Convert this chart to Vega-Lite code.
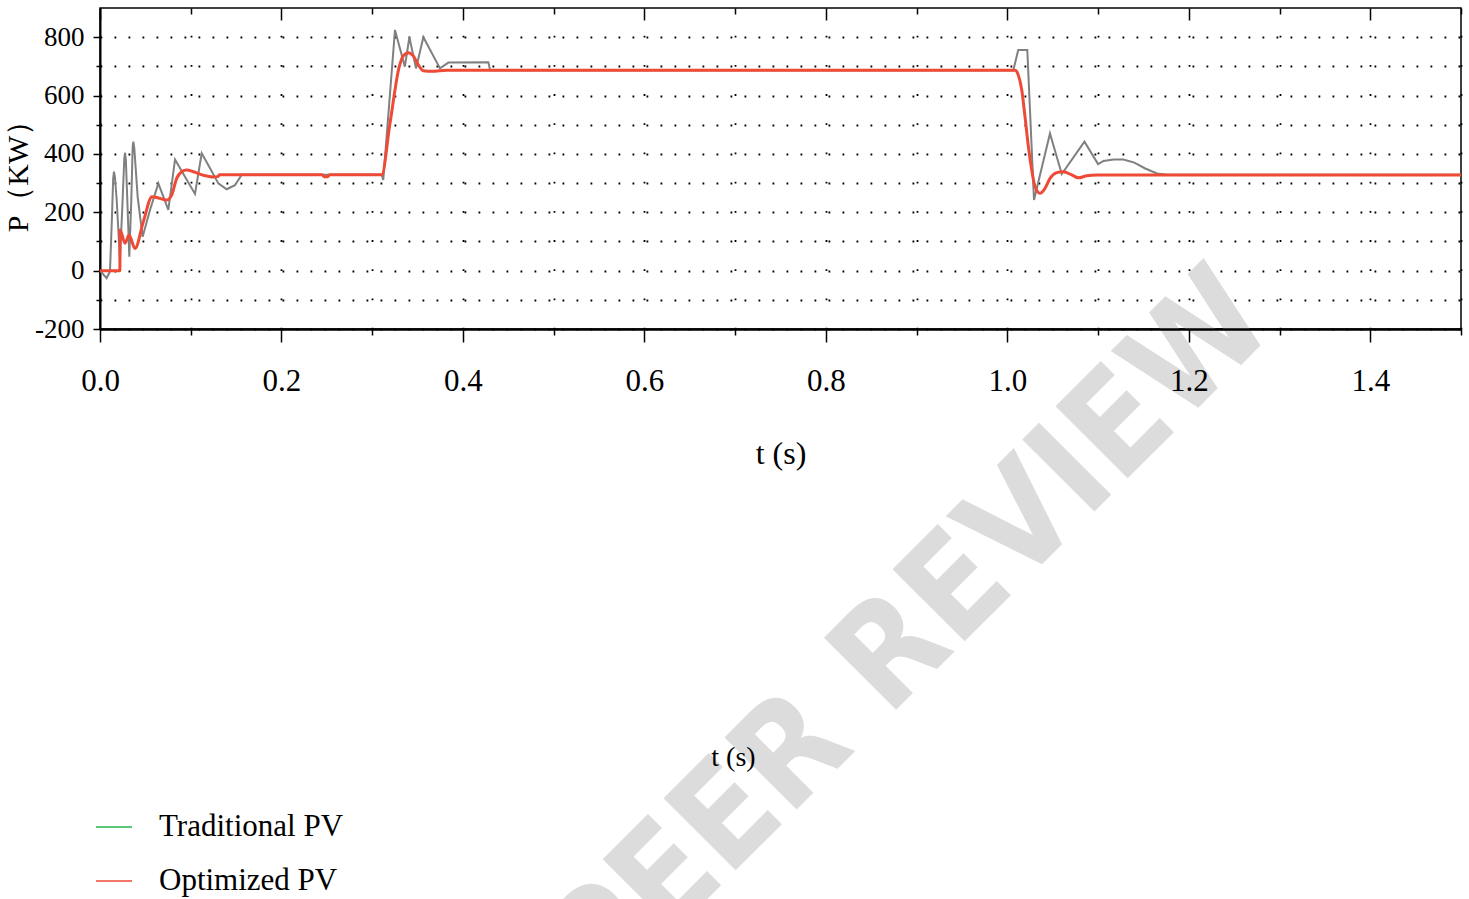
{
  "$schema": "https://vega.github.io/schema/vega-lite/v6.json",
  "width": 1361,
  "height": 321,
  "autosize": {"type": "none"},
  "padding": {"left": 100, "top": 8, "right": 8, "bottom": 570},
  "background": "white",
  "config": {
    "view": {"stroke": "black", "strokeWidth": 1.5},
    "font": "Liberation Serif"
  },
  "data": {
    "values": [
      {"series": "Traditional PV", "t": 0, "P": 0},
      {"series": "Traditional PV", "t": 0.0073, "P": -26},
      {"series": "Traditional PV", "t": 0.011, "P": -3},
      {"series": "Traditional PV", "t": 0.0132, "P": 185},
      {"series": "Traditional PV", "t": 0.0145, "P": 315},
      {"series": "Traditional PV", "t": 0.0154, "P": 339},
      {"series": "Traditional PV", "t": 0.0165, "P": 320},
      {"series": "Traditional PV", "t": 0.0184, "P": 242},
      {"series": "Traditional PV", "t": 0.022, "P": 36},
      {"series": "Traditional PV", "t": 0.0246, "P": 219},
      {"series": "Traditional PV", "t": 0.0268, "P": 385},
      {"series": "Traditional PV", "t": 0.0276, "P": 404},
      {"series": "Traditional PV", "t": 0.0285, "P": 380},
      {"series": "Traditional PV", "t": 0.0301, "P": 242},
      {"series": "Traditional PV", "t": 0.0323, "P": 48},
      {"series": "Traditional PV", "t": 0.0345, "P": 242},
      {"series": "Traditional PV", "t": 0.036, "P": 425},
      {"series": "Traditional PV", "t": 0.0367, "P": 442},
      {"series": "Traditional PV", "t": 0.0378, "P": 420},
      {"series": "Traditional PV", "t": 0.0415, "P": 253},
      {"series": "Traditional PV", "t": 0.047, "P": 116},
      {"series": "Traditional PV", "t": 0.0551, "P": 208},
      {"series": "Traditional PV", "t": 0.0643, "P": 299},
      {"series": "Traditional PV", "t": 0.0753, "P": 208},
      {"series": "Traditional PV", "t": 0.0827, "P": 381},
      {"series": "Traditional PV", "t": 0.0937, "P": 322},
      {"series": "Traditional PV", "t": 0.1047, "P": 263},
      {"series": "Traditional PV", "t": 0.1121, "P": 402},
      {"series": "Traditional PV", "t": 0.1213, "P": 351},
      {"series": "Traditional PV", "t": 0.1304, "P": 299},
      {"series": "Traditional PV", "t": 0.1396, "P": 279},
      {"series": "Traditional PV", "t": 0.1488, "P": 293},
      {"series": "Traditional PV", "t": 0.1562, "P": 329},
      {"series": "Traditional PV", "t": 0.3105, "P": 329},
      {"series": "Traditional PV", "t": 0.3122, "P": 311},
      {"series": "Traditional PV", "t": 0.3251, "P": 825},
      {"series": "Traditional PV", "t": 0.336, "P": 699},
      {"series": "Traditional PV", "t": 0.341, "P": 800},
      {"series": "Traditional PV", "t": 0.3483, "P": 693},
      {"series": "Traditional PV", "t": 0.3564, "P": 800},
      {"series": "Traditional PV", "t": 0.3747, "P": 693},
      {"series": "Traditional PV", "t": 0.384, "P": 713},
      {"series": "Traditional PV", "t": 0.428, "P": 714},
      {"series": "Traditional PV", "t": 0.43, "P": 687},
      {"series": "Traditional PV", "t": 1.0066, "P": 687},
      {"series": "Traditional PV", "t": 1.012, "P": 756},
      {"series": "Traditional PV", "t": 1.022, "P": 756},
      {"series": "Traditional PV", "t": 1.0294, "P": 242},
      {"series": "Traditional PV", "t": 1.047, "P": 470},
      {"series": "Traditional PV", "t": 1.06, "P": 331},
      {"series": "Traditional PV", "t": 1.085, "P": 442},
      {"series": "Traditional PV", "t": 1.1, "P": 365},
      {"series": "Traditional PV", "t": 1.106, "P": 376},
      {"series": "Traditional PV", "t": 1.117, "P": 381},
      {"series": "Traditional PV", "t": 1.128, "P": 381},
      {"series": "Traditional PV", "t": 1.14, "P": 370},
      {"series": "Traditional PV", "t": 1.152, "P": 350},
      {"series": "Traditional PV", "t": 1.165, "P": 333},
      {"series": "Traditional PV", "t": 1.176, "P": 329},
      {"series": "Traditional PV", "t": 1.5, "P": 329},
      {"series": "Optimized PV", "t": 0, "P": 0},
      {"series": "Optimized PV", "t": 0.0219, "P": 0},
      {"series": "Optimized PV", "t": 0.0221, "P": 139},
      {"series": "Optimized PV", "t": 0.0276, "P": 94},
      {"series": "Optimized PV", "t": 0.032, "P": 122},
      {"series": "Optimized PV", "t": 0.0386, "P": 76},
      {"series": "Optimized PV", "t": 0.0478, "P": 168},
      {"series": "Optimized PV", "t": 0.0573, "P": 253},
      {"series": "Optimized PV", "t": 0.0643, "P": 249},
      {"series": "Optimized PV", "t": 0.0735, "P": 242},
      {"series": "Optimized PV", "t": 0.079, "P": 259},
      {"series": "Optimized PV", "t": 0.0845, "P": 316},
      {"series": "Optimized PV", "t": 0.09, "P": 339},
      {"series": "Optimized PV", "t": 0.0955, "P": 345},
      {"series": "Optimized PV", "t": 0.103, "P": 339},
      {"series": "Optimized PV", "t": 0.114, "P": 327},
      {"series": "Optimized PV", "t": 0.125, "P": 321},
      {"series": "Optimized PV", "t": 0.1304, "P": 323},
      {"series": "Optimized PV", "t": 0.1315, "P": 329},
      {"series": "Optimized PV", "t": 0.245, "P": 329},
      {"series": "Optimized PV", "t": 0.247, "P": 322},
      {"series": "Optimized PV", "t": 0.251, "P": 322},
      {"series": "Optimized PV", "t": 0.253, "P": 329},
      {"series": "Optimized PV", "t": 0.3105, "P": 329},
      {"series": "Optimized PV", "t": 0.3196, "P": 505},
      {"series": "Optimized PV", "t": 0.3299, "P": 700},
      {"series": "Optimized PV", "t": 0.3343, "P": 736},
      {"series": "Optimized PV", "t": 0.3398, "P": 747},
      {"series": "Optimized PV", "t": 0.3453, "P": 736},
      {"series": "Optimized PV", "t": 0.3508, "P": 705},
      {"series": "Optimized PV", "t": 0.3563, "P": 685},
      {"series": "Optimized PV", "t": 0.3656, "P": 683},
      {"series": "Optimized PV", "t": 0.3821, "P": 687},
      {"series": "Optimized PV", "t": 1.0085, "P": 687},
      {"series": "Optimized PV", "t": 1.0121, "P": 670},
      {"series": "Optimized PV", "t": 1.0159, "P": 619},
      {"series": "Optimized PV", "t": 1.0195, "P": 527},
      {"series": "Optimized PV", "t": 1.0232, "P": 425},
      {"series": "Optimized PV", "t": 1.0269, "P": 345},
      {"series": "Optimized PV", "t": 1.0305, "P": 288},
      {"series": "Optimized PV", "t": 1.036, "P": 265},
      {"series": "Optimized PV", "t": 1.0415, "P": 282},
      {"series": "Optimized PV", "t": 1.047, "P": 316},
      {"series": "Optimized PV", "t": 1.0544, "P": 336},
      {"series": "Optimized PV", "t": 1.0617, "P": 339},
      {"series": "Optimized PV", "t": 1.071, "P": 328},
      {"series": "Optimized PV", "t": 1.0782, "P": 318},
      {"series": "Optimized PV", "t": 1.0875, "P": 325},
      {"series": "Optimized PV", "t": 1.0985, "P": 328},
      {"series": "Optimized PV", "t": 1.5, "P": 328}
    ]
  },
  "resolve": {"axis": {"x": "independent", "y": "independent"}},
  "layer": [
    {
      "data": {"values": [{"label": "PEER REVIEW"}]},
      "mark": {
        "type": "text",
        "angle": -45,
        "align": "center",
        "baseline": "alphabetic",
        "font": "DejaVu Sans Condensed, Liberation Sans Narrow, Liberation Sans, sans-serif",
        "fontWeight": "bold",
        "fontSize": 140,
        "color": "#dcdcdc"
      },
      "encoding": {
        "x": {"datum": 0.9258, "type": "quantitative", "scale": {"domain": [0, 1.5], "nice": false, "zero": false}, "axis": null},
        "y": {
          "datum": -1355,
          "type": "quantitative",
          "scale": {"domain": [-200, 900], "nice": false, "zero": false},
          "axis": {
            "orient": "right",
            "labels": false,
            "ticks": false,
            "domain": false,
            "grid": false,
            "title": "t (s)",
            "titleX": -728,
            "titleY": 749,
            "titleAngle": 0,
            "titleAlign": "center",
            "titleBaseline": "middle",
            "titleFont": "Liberation Serif",
            "titleFontSize": 28,
            "titleFontWeight": "normal",
            "titleColor": "black",
            "zindex": 1
          }
        },
        "text": {"field": "label", "type": "nominal"}
      }
    },
    {
      "transform": [{"filter": "datum.series === 'Traditional PV'"}],
      "mark": {"type": "line", "color": "#808080", "strokeWidth": 2, "interpolate": "linear"},
      "encoding": {
        "x": {
          "field": "t",
          "type": "quantitative",
          "scale": {"domain": [0, 1.5], "nice": false, "zero": false},
          "axis": {
            "orient": "bottom",
            "values": [0, 0.1, 0.2, 0.3, 0.4, 0.5, 0.6, 0.7, 0.8, 0.9, 1.0, 1.1, 1.2, 1.3, 1.4, 1.5],
            "labelExpr": "round(datum.value * 10) % 2 === 0 ? format(datum.value, '.1f') : ''",
            "labelOverlap": false,
            "labelFlush": false,
            "labelFont": "Liberation Serif",
            "labelFontSize": 31,
            "labelColor": "black",
            "labelPadding": 24,
            "tickSize": {"condition": {"test": "round(datum.value * 10) % 2 === 0", "value": 13}, "value": 6},
            "tickColor": "black",
            "tickWidth": 1.5,
            "domainColor": "black",
            "domainWidth": 2.5,
            "grid": false,
            "title": "t (s)",
            "titleFont": "Liberation Serif",
            "titleFontSize": 32,
            "titleFontWeight": "normal",
            "titleColor": "black",
            "titlePadding": 42,
            "zindex": 1
          }
        },
        "y": {
          "field": "P",
          "type": "quantitative",
          "scale": {"domain": [-200, 900], "nice": false, "zero": false},
          "axis": {
            "orient": "left",
            "values": [-200, -100, 0, 100, 200, 300, 400, 500, 600, 700, 800],
            "labelExpr": "datum.value % 200 === 0 ? '' + datum.value : ''",
            "labelOverlap": false,
            "labelFlush": false,
            "labelFont": "Liberation Serif",
            "labelFontSize": 27,
            "labelColor": "black",
            "labelPadding": 9,
            "tickSize": {"condition": {"test": "datum.value % 200 === 0", "value": 7}, "value": 4},
            "tickColor": "black",
            "tickWidth": 1.5,
            "domainColor": "black",
            "domainWidth": 2,
            "grid": true,
            "gridColor": "black",
            "gridDash": [1.8, 12.2],
            "gridWidth": 1.8,
            "title": "P（KW）",
            "titleFont": "Liberation Serif",
            "titleFontSize": 30,
            "titleFontWeight": "normal",
            "titleColor": "black",
            "titlePadding": 1
          }
        }
      }
    },
    {
      "transform": [{"filter": "datum.series === 'Optimized PV'"}],
      "mark": {"type": "line", "strokeWidth": 3, "interpolate": "monotone"},
      "encoding": {
        "x": {
          "field": "t",
          "type": "quantitative",
          "scale": {"domain": [0, 1.5], "nice": false, "zero": false},
          "axis": {
            "orient": "top",
            "values": [0, 0.1, 0.2, 0.3, 0.4, 0.5, 0.6, 0.7, 0.8, 0.9, 1.0, 1.1, 1.2, 1.3, 1.4, 1.5],
            "labels": false,
            "domain": false,
            "tickSize": {"condition": {"test": "round(datum.value * 10) % 2 === 0", "value": -12}, "value": -6},
            "tickColor": "black",
            "tickWidth": 1.5,
            "grid": true,
            "gridColor": "black",
            "gridDash": [1.8, 27.4],
            "gridWidth": 1.8,
            "title": null
          }
        },
        "y": {
          "field": "P",
          "type": "quantitative",
          "scale": {"domain": [-200, 900], "nice": false, "zero": false},
          "axis": null
        },
        "color": {
          "field": "series",
          "type": "nominal",
          "scale": {"domain": ["Traditional PV", "Optimized PV"], "range": ["#1fb84a", "#ee4a36"]},
          "legend": {
            "orient": "none",
            "legendX": -5,
            "legendY": 800,
            "title": null,
            "symbolType": "stroke",
            "symbolSize": 1296,
            "symbolStrokeWidth": 1.5,
            "labelFont": "Liberation Serif",
            "labelFontSize": 31,
            "labelColor": "black",
            "labelOffset": 26,
            "labelLimit": 400,
            "rowPadding": 20,
            "padding": 0
          }
        }
      }
    }
  ]
}
